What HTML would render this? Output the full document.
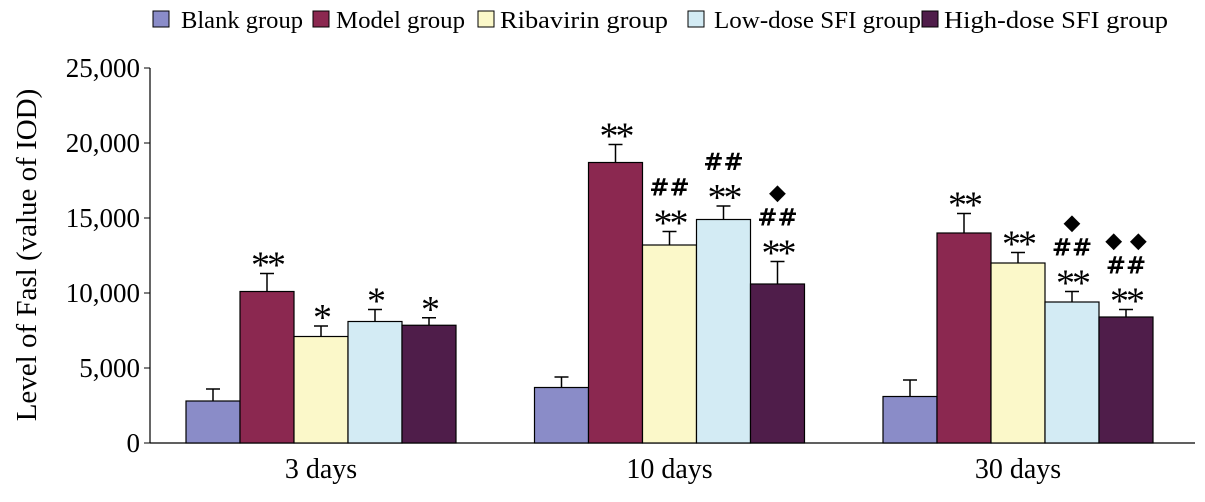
<!DOCTYPE html><html><head><meta charset="utf-8"><style>body{margin:0;background:#fff}svg{font-family:"Liberation Serif",serif}</style></head><body>
<svg id="c" width="1205" height="497"></svg>
<script>
const categories=["3 days","10 days","30 days"];
const seriesNames=["Blank group","Model group","Ribavirin group","Low-dose SFI group","High-dose SFI group"];
const blank=[2800,3700,3100], blankErr=[800,700,1100];
const model=[10100,18700,14000], modelErr=[1200,1200,1300];
const riba=[7100,13200,12000], ribaErr=[700,900,700];
const low=[8100,14900,9400], lowErr=[800,900,700];
const high=[7850,10600,8400], highErr=[500,1500,500];
const marks=[[["**"],["*"],["*"],["*"]],[["**"],["##","**"],["##","**"],["◆","##","**"]],[["**"],["**"],["◆","##","**"],["◆ ◆","##","**"]]];
const yTicks=[0,5000,10000,15000,20000,25000];
const yTickLabels=["0","5,000","10,000","15,000","20,000","25,000"];
const colors=["#8a8cc8","#8b2850","#fbf8c9","#d3ebf4","#4f1d4a"];
const svg=document.getElementById('c'),NS="http://www.w3.org/2000/svg";
const y0=443,yTop=68,x0=150;
const y=v=>y0-(v/25000)*(y0-yTop);
const gx=i=>186+i*348.5, bw=54;
function mk(t,a,p){const e=document.createElementNS(NS,t);for(const k in a)e.setAttribute(k,a[k]);(p||svg).appendChild(e);return e;}
const vals=[blank,model,riba,low,high],errs=[blankErr,modelErr,ribaErr,lowErr,highErr];
let ax=mk('line',{x1:x0,y1:yTop,x2:x0,y2:y0,stroke:'#000','stroke-width':1.2});

let bx=mk('line',{x1:x0,y1:y0,x2:1195,y2:y0,stroke:'#000','stroke-width':1.2});

yTicks.forEach((t,i)=>{let l=mk('line',{x1:x0-6,x2:x0,y1:y(t),y2:y(t),stroke:'#000'});

let tx=mk('text',{x:x0-10,y:y(t)+9,'text-anchor':'end','font-size':27});tx.textContent=yTickLabels[i];
});
let yt=mk('text',{x:0,y:0,'font-size':29,'text-anchor':'middle',transform:'translate(36,255) rotate(-90)'});yt.textContent="Level of Fasl (value of IOD)";

categories.forEach((c,g)=>{
 for(let s=0;s<5;s++){const x=gx(g)+s*bw,v=vals[s][g],e=errs[s][g];
  let r=mk('rect',{x:x,y:y(v),width:bw,height:y0-y(v),fill:colors[s],stroke:'#000','stroke-width':1.2});
  
  let el=mk('path',{d:`M${x+bw/2},${y(v)}V${y(v+e)}M${x+bw/2-7},${y(v+e)}H${x+bw/2+7}`,stroke:'#000','stroke-width':1.5,fill:'none'});
  
  if(s>0){const m=marks[g][s-1];m.forEach((t,k)=>{const ty=y(v+e)-10-(m.length-1-k)*26;
   const isStar=t.indexOf('*')>=0,isD=t.indexOf('◆')>=0;
   let tx=mk('text',{x:x+bw/2,y:ty+(isStar?14:0),'text-anchor':'middle','font-size':isStar?38:(isD?22:24),'font-weight':isStar?'normal':'bold','letter-spacing':isStar?-3:0,'font-family':isStar?'"Liberation Serif",serif':'"DejaVu Sans",sans-serif'});tx.textContent=t;
   });}
 }
 let ct=mk('text',{x:gx(g)+135,y:478,'text-anchor':'middle','font-size':28});ct.textContent=c;
 
});
const lx=[153,313,478,688,922],tx0=[181,336,500,714,944];
seriesNames.forEach((n,i)=>{let g=mk('g',{});
 mk('rect',{x:lx[i],y:11,width:16,height:16,fill:colors[i],stroke:'#000','stroke-width':1},g);
 let t=mk('text',{x:tx0[i],y:28,'font-size':24,textLength:[122,129,168,207,224][i],lengthAdjust:'spacingAndGlyphs'},g);t.textContent=n;});
</script></body></html>
